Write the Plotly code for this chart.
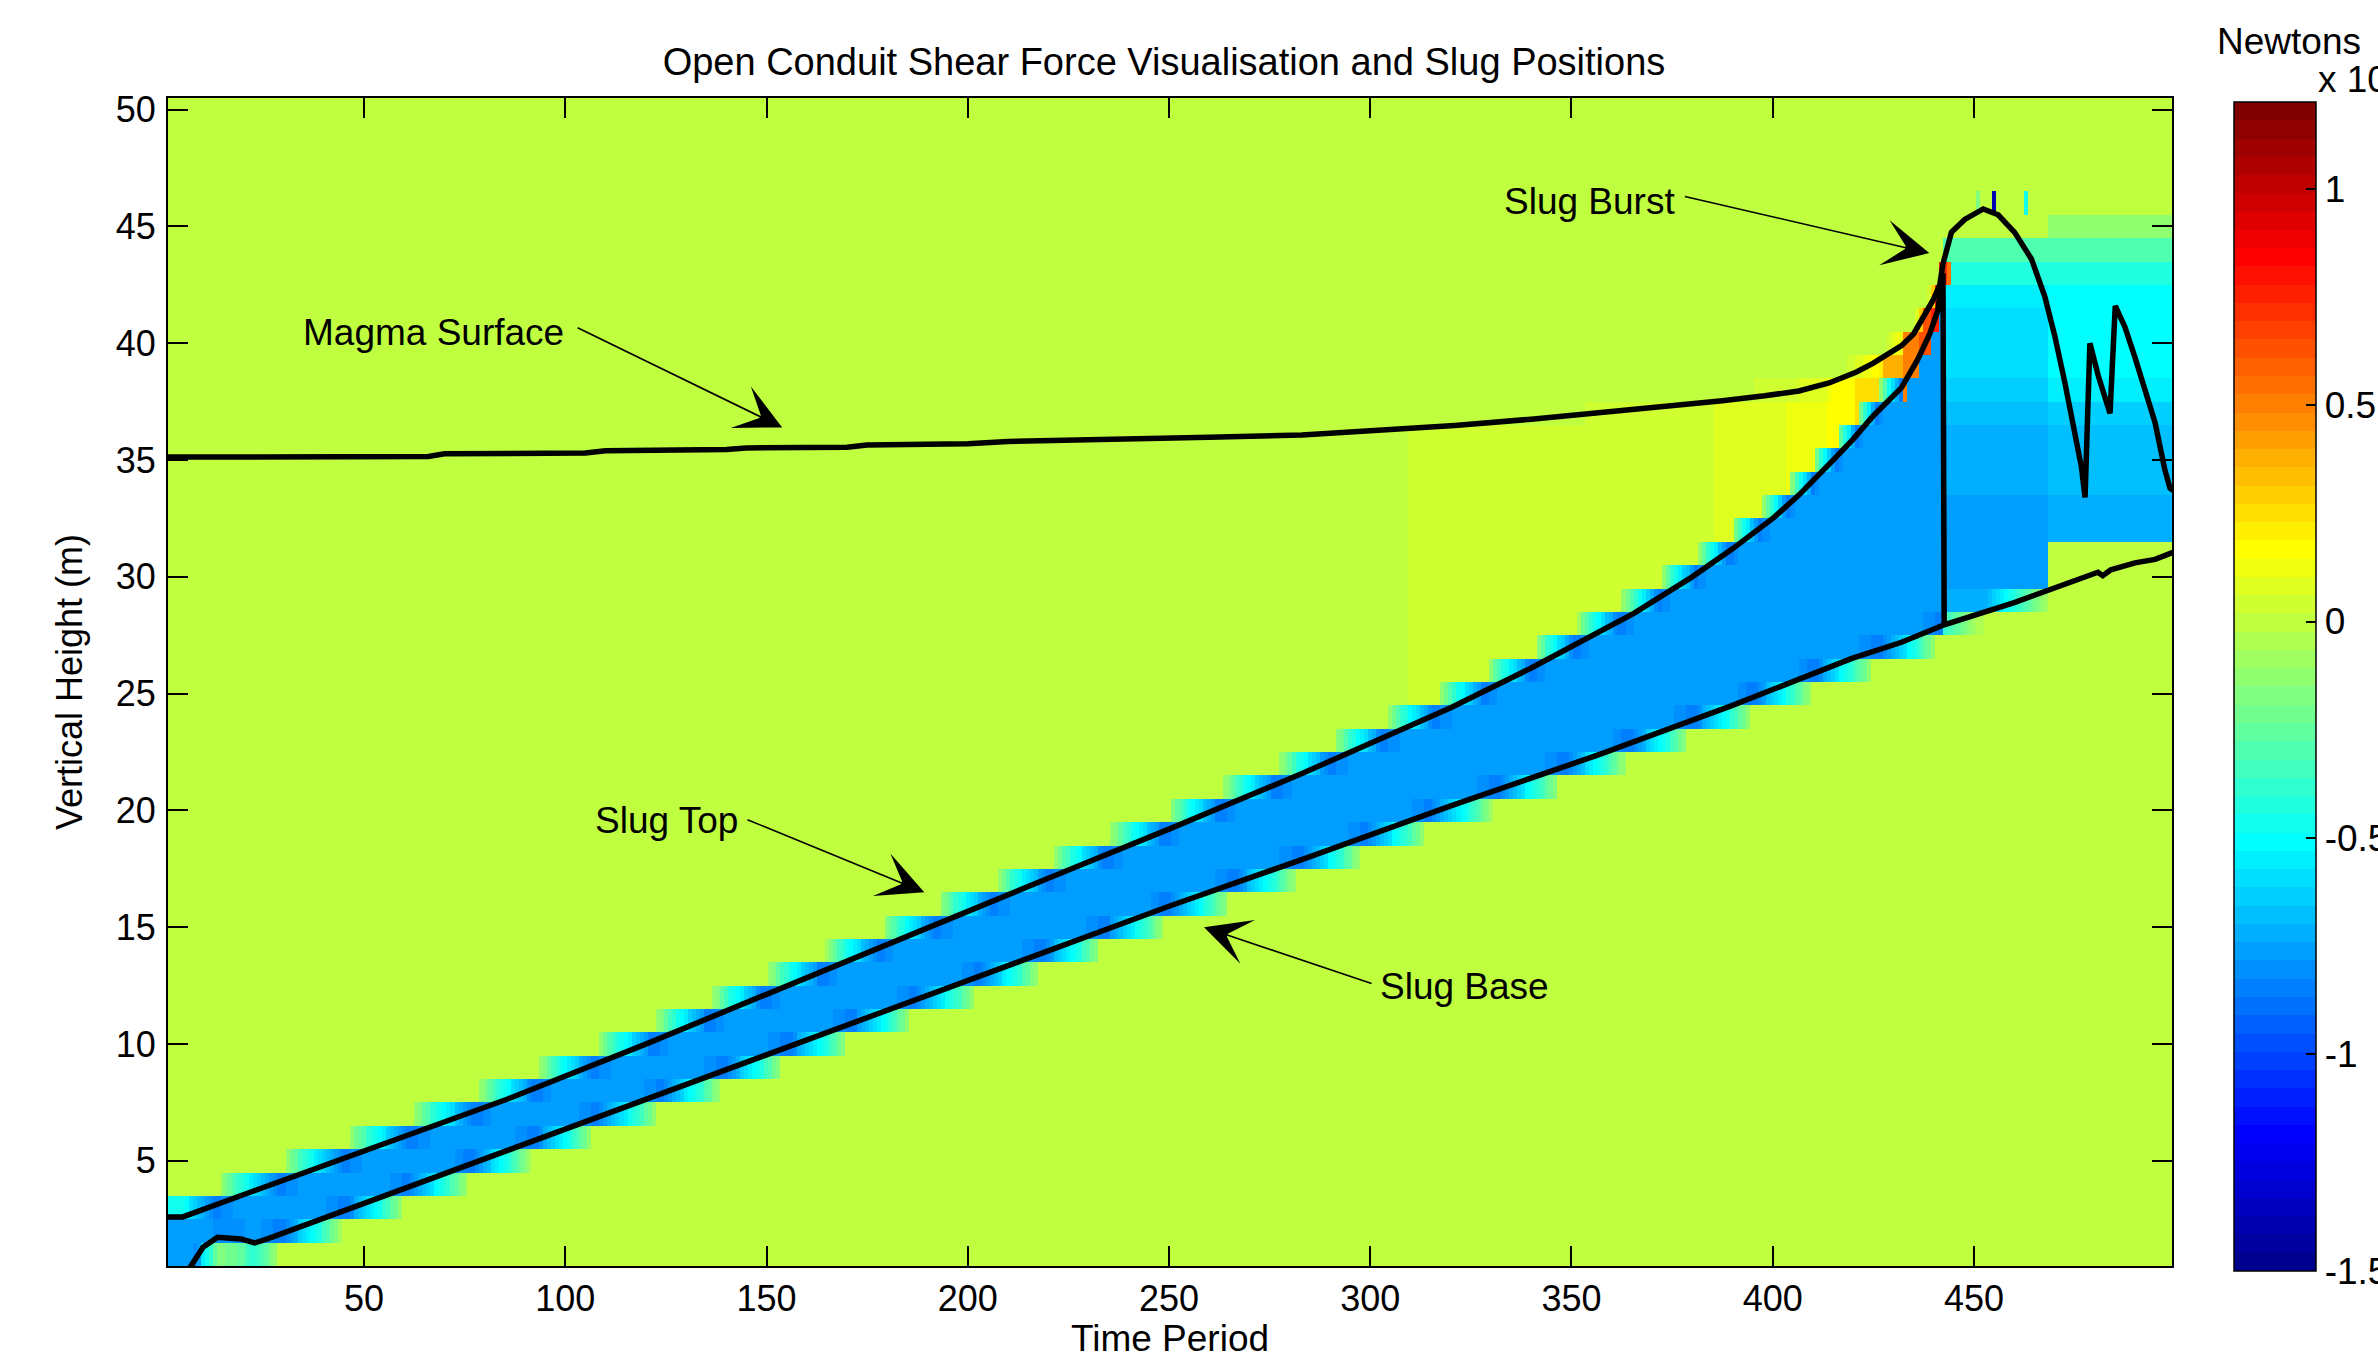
import numpy as np
import plotly.graph_objects as go

# ---------------- data ----------------
# Magma surface (continues as the burst surface after t~442)
surf_t = [1, 30, 66, 70, 105, 110, 140, 145, 170, 175, 200, 210, 230, 240, 260, 283,
          300, 321, 340, 359, 375, 387.5, 398, 406.5, 414, 420.8, 425, 428, 432, 435,
          437.7, 440, 441.5, 442.3, 444.4, 447.7, 452.3, 456, 460.1, 464.3, 467.6,
          470.1, 472.6, 475.1, 476.7, 477.6, 478.8, 480.9, 483.8, 485.1, 487.5, 490,
          492.5, 495, 497.4, 498.7, 499.5]
surf_y = [35.13, 35.15, 35.15, 35.27, 35.3, 35.4, 35.45, 35.52, 35.55, 35.65, 35.7, 35.8,
          35.85, 35.92, 35.98, 36.07, 36.25, 36.48, 36.75, 37.06, 37.3, 37.54, 37.75,
          37.96, 38.3, 38.77, 39.15, 39.5, 39.9, 40.4, 41.2, 41.9, 42.5, 43.4, 44.75,
          45.3, 45.75, 45.5, 44.75, 43.6, 42.0, 40.3, 38.3, 36.2, 34.7, 33.4, 40.0,
          38.6, 37.0, 41.6, 40.7, 39.4, 38.0, 36.6, 34.6, 33.8, 33.7]

# Slug top (drops to the slug base at the burst)
top_t = [1, 5, 20, 46.8, 70, 85.7, 120, 150, 189, 220, 250, 282.9, 300, 320, 340,
         365.6, 380, 390, 400, 406.5, 415, 420, 425, 432, 436, 439, 441, 442.3, 442.6]
top_y = [2.6, 2.6, 3.55, 5.22, 6.65, 7.65, 10.0, 12.15, 14.9, 17.1, 19.2, 21.57, 22.85,
         24.4, 26.1, 28.45, 30.0, 31.2, 32.5, 33.5, 35.0, 35.9, 36.9, 38.1, 39.3, 40.4,
         41.4, 43.0, 28.0]

# Slug base
base_t = [1, 5, 7, 10, 13.6, 19.4, 22.8, 26, 50, 96.5, 150, 200, 250, 283, 320, 357,
          390, 419.5, 432, 442.6, 460, 480.8, 482, 484, 490, 495, 498.2, 499.5]
base_y = [-0.8, 0.0, 0.5, 1.3, 1.73, 1.66, 1.49, 1.66, 3.18, 6.15, 9.55, 12.7, 15.9,
          17.9, 20.2, 22.4, 24.5, 26.5, 27.2, 27.95, 28.9, 30.2, 30.05, 30.3, 30.6,
          30.75, 31.0, 31.05]

# Shear force (Newtons x 10^4)
slug_shear = -0.76                      # inside the rising slug
fringe_shear = -1.0                     # weight of the thin fringe just outside the slug
fringe_width = 0.4                      # m
shear_start_t = [310, 386, 404, 414, 421, 428, 433, 437, 440]   # above slug, below surface
shear_level = [0.04, 0.09, 0.13, 0.17, 0.24, 0.36, 0.5, 0.62, 0.75]
hot_start_t = 433                       # from here the hot zone reaches over the slug top
hot_reach = 0.6                         # m
burst_start_t = 443
burst_split_t = 469
burst_rows = [28, 29, 30, 31, 32, 33, 34, 35, 36, 37, 38, 39, 40, 41, 42, 43, 44, 45, 46]
burst_early = [-0.7, -0.72, -0.78, -0.78, -0.78, -0.76, -0.74, -0.72, -0.7, -0.66,
               -0.62, -0.6, -0.6, -0.58, -0.55, -0.44, -0.3, 0.0, 0.0]
burst_late = [0.0, 0.0, 0.0, 0.0, -0.7, -0.7, -0.68, -0.68, -0.66, -0.62, -0.54, -0.52,
              -0.52, -0.52, -0.5, -0.42, -0.3, -0.12, 0.0]
spike_t = [443, 444, 451, 455, 463]
spike_y = [43, 43, 46, 46, 46]
spike_v = [0.7, 0.55, -0.15, -1.4, -0.45]

x_ticks = [50, 100, 150, 200, 250, 300, 350, 400, 450]
y_ticks = [5, 10, 15, 20, 25, 30, 35, 40, 45, 50]
cbar_ticks = [-1.5, -1, -0.5, 0, 0.5, 1]
cbar_labels = ["-1.5", "-1", "-0.5", "0", "0.5", "1"]

# ---------------- build the shear field grid ----------------
T = np.arange(1, 500)
Yr = np.arange(1, 51)
top_c = np.interp(T, top_t[:-1], top_y[:-1])[None, :]
base_c = np.interp(T, base_t, base_y)[None, :]
surf_c = np.interp(T, surf_t, surf_y)[None, :]
yl = Yr[:, None] - 0.5
yh = Yr[:, None] + 0.5


def cover(lo, hi):
    return np.clip(np.minimum(hi, yh) - np.maximum(lo, yl), 0, 1)


frac_core = cover(base_c, top_c)
frac_ext = cover(base_c - fringe_width, top_c + fringe_width)
z_slug = slug_shear * frac_core + fringe_shear * (frac_ext - frac_core)

idx = np.searchsorted(shear_start_t, T, side="right") - 1
level = np.where(idx >= 0, np.array(shear_level)[np.clip(idx, 0, None)], 0.0)[None, :]
reach = np.where(T >= hot_start_t, hot_reach, 0.0)[None, :]
frac_pos = cover(top_c - reach, surf_c)
Z = np.where(np.abs(z_slug) > 0.1, z_slug, level * frac_pos)
hot = (reach > 0) & (frac_pos >= 0.5)
Z = np.where(hot, level, Z)

frac_above = np.clip(yh - np.maximum(base_c, yl), 0, 1)
for j, t in enumerate(T):
    if t >= burst_start_t:
        prof = burst_early if t < burst_split_t else burst_late
        col = np.zeros(len(Yr))
        for r, v in zip(burst_rows, prof):
            col[r - 1] = v
        Z[:, j] = col * frac_above[:, j]
for t, r, v in zip(spike_t, spike_y, spike_v):
    Z[r - 1, t - 1] = v

x_edges = np.arange(0.5, 500.5, 1.0)
y_edges = np.arange(0.5, 51.5, 1.0)


# MATLAB jet(64) as a stepped colour scale
def jet64():
    cols = []
    for k in range(1, 65):
        r = 0 if k <= 24 else (min((k - 24) / 16, 1) if k <= 56 else 1 - (k - 56) / 16)
        g = 0 if k <= 8 else (min((k - 8) / 16, 1) if k <= 40 else max(1 - (k - 40) / 16, 0))
        b = (k + 8) / 16 if k <= 8 else (1 if k <= 24 else max(1 - (k - 24) / 16, 0))
        cols.append("rgb(%d,%d,%d)" % (round(r * 255), round(g * 255), round(b * 255)))
    cs = []
    for i, c in enumerate(cols):
        cs.append([i / 64, c])
        cs.append([(i + 1) / 64, c])
    return cs


FONT = "Liberation Sans, Arial, Helvetica, sans-serif"

fig = go.Figure()
fig.add_trace(go.Heatmap(
    z=Z, x=x_edges, y=y_edges, colorscale=jet64(), zmin=-1.5, zmax=1.2,
    hoverinfo="skip",
    colorbar=dict(
        x=1.0309, xanchor="left", xpad=0, y=0.9966, yanchor="top", ypad=0,
        len=1169, lenmode="pixels", thickness=82, thicknessmode="pixels",
        outlinewidth=1.5, outlinecolor="black",
        tickmode="array", tickvals=cbar_ticks, ticktext=cbar_labels,
        ticks="inside", ticklen=10, tickwidth=1.5, tickcolor="black",
        tickfont=dict(size=37, family=FONT, color="black"),
    ),
))

line_style = dict(color="black", width=5.5)
fig.add_trace(go.Scatter(x=surf_t, y=surf_y, mode="lines", line=line_style, hoverinfo="skip"))
fig.add_trace(go.Scatter(x=top_t, y=top_y, mode="lines", line=line_style, hoverinfo="skip"))
fig.add_trace(go.Scatter(x=base_t, y=base_y, mode="lines", line=line_style, hoverinfo="skip"))

# annotations: (label, text-left t, text-centre y, tail t, tail y, tip t, tip y)
labels = [
    ("Magma Surface", 34.3, 40.45, 102.7, 40.7, 153.9, 36.4),
    ("Slug Top", 106.9, 19.55, 144.9, 19.63, 189.2, 16.5),
    ("Slug Base", 302.0, 12.45, 300.7, 12.57, 258.7, 15.0),
    ("Slug Burst", 332.8, 46.05, 377.8, 46.3, 438.9, 43.86),
]
for txt, lx, ly, axx, ayy, tx, ty in labels:
    fig.add_annotation(x=lx, y=ly, xref="x", yref="y", text=txt, showarrow=False,
                       xanchor="left", yanchor="middle",
                       font=dict(size=37, family=FONT, color="black"))
    fig.add_annotation(x=tx, y=ty, xref="x", yref="y", ax=axx, ay=ayy, axref="x", ayref="y",
                       text="", showarrow=True, arrowhead=3, arrowsize=4.8, arrowwidth=1.6,
                       arrowcolor="black", standoff=0)

fig.add_annotation(x=1.0584, y=1.0488, xref="paper", yref="paper", text="Newtons",
                   showarrow=False, xanchor="center", yanchor="middle",
                   font=dict(size=37, family=FONT, color="black"))
fig.add_annotation(x=1.0719, y=1.0188, xref="paper", yref="paper", text="x 10<sup>4</sup>",
                   showarrow=False, xanchor="left", yanchor="middle",
                   font=dict(size=37, family=FONT, color="black"))

axis_common = dict(showline=True, linecolor="black", linewidth=2, mirror="ticks",
                   ticks="inside", ticklen=20, tickwidth=1.5, tickcolor="black",
                   showgrid=False, zeroline=False,
                   tickfont=dict(size=36, family=FONT, color="black"))
fig.update_layout(
    width=2378, height=1359,
    margin=dict(l=168, r=206, t=98, b=93, autoexpand=False),
    paper_bgcolor="white", plot_bgcolor="white",
    showlegend=False,
    title=dict(text="Open Conduit Shear Force Visualisation and Slug Positions",
               x=0.497, xref="paper", xanchor="center", y=1 - 62 / 1359, yref="container",
               yanchor="middle", font=dict(size=38, family=FONT, color="black")),
    xaxis=dict(range=[1.3, 499.2], tickmode="array", tickvals=x_ticks,
               title=dict(text="Time Period", standoff=12,
                          font=dict(size=37, family=FONT, color="black")),
               **axis_common),
    yaxis=dict(range=[0.5, 50.5], tickmode="array", tickvals=y_ticks, ticklabelstandoff=3,
               title=dict(text="Vertical Height (m)", standoff=22,
                          font=dict(size=36, family=FONT, color="black")),
               **axis_common),
)

fig.write_html("out.html", config={"displayModeBar": False},
               post_script="document.body.style.margin='0';document.body.style.overflow='hidden';")
